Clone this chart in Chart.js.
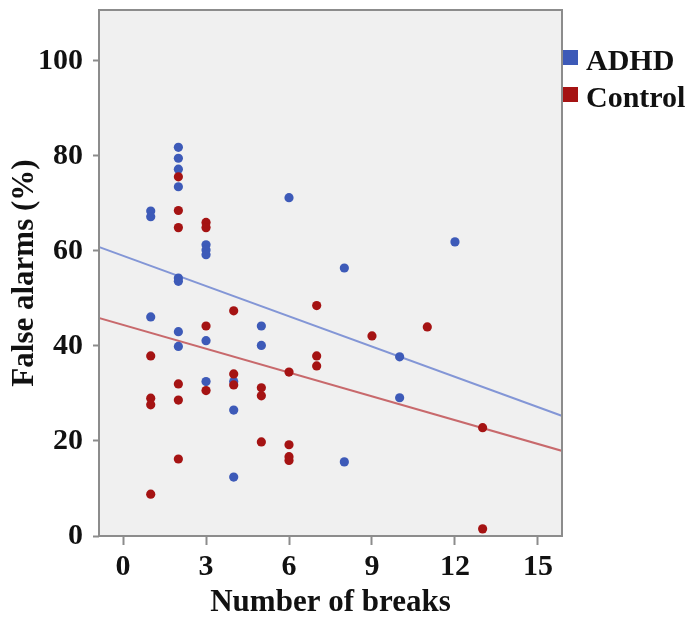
<!DOCTYPE html>
<html>
<head>
<meta charset="utf-8">
<title>False alarms by number of breaks</title>
<script src="https://cdn.jsdelivr.net/npm/chart.js@4.4.1/dist/chart.umd.min.js"></script>
<style>
  html, body { margin: 0; padding: 0; background: #fff; }
  #wrap { width: 687px; height: 622px; }
</style>
</head>
<body>
<div id="wrap"><canvas id="scatter" width="687" height="622"></canvas></div>
<script>
// Number of breaks and false alarm rate (%) per participant
const adhdBreaks = [1, 1, 1, 2, 2, 2, 2, 2, 2, 2, 2, 3, 3, 3, 3, 3, 4, 4, 4, 5, 5, 6, 8, 8, 10, 10, 12];
const adhdFalseAlarms = [68.4, 67.2, 46.1, 81.8, 79.5, 77.2, 73.5, 54.3, 53.6, 43.0, 39.9, 61.3, 60.2, 59.2, 41.1, 32.5, 32.5, 26.5, 12.4, 44.2, 40.1, 71.2, 56.4, 15.6, 37.7, 29.1, 61.9];

const controlBreaks = [1, 1, 1, 1, 2, 2, 2, 2, 2, 2, 3, 3, 3, 3, 4, 4, 4, 5, 5, 5, 6, 6, 6, 6, 7, 7, 7, 9, 11, 13, 13];
const controlFalseAlarms = [37.9, 29.0, 27.6, 8.8, 75.6, 68.5, 64.9, 32.0, 28.6, 16.2, 66.0, 64.9, 44.2, 30.6, 47.4, 34.1, 31.8, 31.2, 29.5, 19.8, 34.5, 19.2, 16.7, 15.9, 48.5, 37.9, 35.8, 42.1, 44.0, 22.8, 1.5];

// Fit line end points
const fitBreaks = [-1, 16];
const adhdFit = [61.1, 25.0];
const controlFit = [46.1, 17.7];

const groupNames = ['ADHD', 'Control'];
const xTicks = [0, 3, 6, 9, 12, 15];
const yTicks = [0, 20, 40, 60, 80, 100];

const BLUE = '#3d5ab8';
const RED = '#a51313';
const AXIS_GREY = '#8c8c8c';
const FONT = "'Liberation Serif', 'Times New Roman', serif";

function pairs(xs, ys) {
  return xs.map((x, i) => ({ x: x, y: ys[i] }));
}

// plot panel background and frame
const panelPlugin = {
  id: 'panel',
  beforeDraw(chart) {
    const { ctx, chartArea: a } = chart;
    ctx.save();
    ctx.fillStyle = '#f0f0f0';
    ctx.fillRect(a.left, a.top, a.right - a.left, a.bottom - a.top);
    ctx.restore();
  },
  afterDraw(chart) {
    const { ctx, chartArea: a } = chart;
    ctx.save();
    ctx.strokeStyle = AXIS_GREY;
    ctx.lineWidth = 2;
    ctx.strokeRect(a.left, a.top, a.right - a.left, a.bottom - a.top);
    ctx.restore();
  }
};

// group key to the right of the panel
const keyPlugin = {
  id: 'groupKey',
  afterDraw(chart) {
    const { ctx, chartArea: a } = chart;
    const colors = [BLUE, RED];
    ctx.save();
    ctx.font = 'bold 30px ' + FONT;
    ctx.textBaseline = 'alphabetic';
    groupNames.forEach((name, i) => {
      const top = 50 + i * 37;
      ctx.fillStyle = colors[i];
      ctx.fillRect(a.right + 1, top, 15, 15);
      ctx.fillStyle = '#111';
      ctx.fillText(name, a.right + 24, top + 20);
    });
    ctx.restore();
  }
};

new Chart(document.getElementById('scatter'), {
  type: 'scatter',
  data: {
    datasets: [
      {
        label: groupNames[1],
        data: pairs(controlBreaks, controlFalseAlarms),
        backgroundColor: RED,
        borderColor: RED,
        pointRadius: 4.6,
        borderWidth: 0,
        order: 1
      },
      {
        label: groupNames[0],
        data: pairs(adhdBreaks, adhdFalseAlarms),
        backgroundColor: BLUE,
        borderColor: BLUE,
        pointRadius: 4.6,
        borderWidth: 0,
        order: 2
      },
      {
        type: 'line',
        label: 'ADHD fit',
        data: pairs(fitBreaks, adhdFit),
        borderColor: '#8396d6',
        borderWidth: 2,
        pointRadius: 0,
        fill: false,
        order: 3
      },
      {
        type: 'line',
        label: 'Control fit',
        data: pairs(fitBreaks, controlFit),
        borderColor: '#c8696c',
        borderWidth: 2,
        pointRadius: 0,
        fill: false,
        order: 4
      }
    ]
  },
  options: {
    responsive: false,
    animation: false,
    layout: { padding: { top: 10, right: 125, left: 0, bottom: 0 } },
    plugins: {
      legend: { display: false },
      tooltip: { enabled: false }
    },
    scales: {
      x: {
        type: 'linear',
        min: -0.87,
        max: 15.87,
        afterFit(scale) {
          scale.height = 86;
          scale.paddingLeft = 0;
          scale.paddingRight = 0;
        },
        afterBuildTicks(scale) { scale.ticks = xTicks.map(v => ({ value: v })); },
        ticks: {
          padding: 4,
          color: '#111',
          font: { family: FONT, size: 30, weight: 'bold' }
        },
        grid: {
          drawOnChartArea: false,
          drawTicks: true,
          tickLength: 9,
          tickWidth: 2,
          tickColor: AXIS_GREY
        },
        border: { display: false },
        title: {
          display: true,
          text: 'Number of breaks',
          color: '#111',
          padding: { top: 0, bottom: 0 },
          font: { family: FONT, size: 31, weight: 'bold' }
        }
      },
      y: {
        type: 'linear',
        min: 0,
        max: 110.7,
        afterFit(scale) {
          scale.width = 99;
          scale.paddingTop = 0;
          scale.paddingBottom = 0;
        },
        afterBuildTicks(scale) { scale.ticks = yTicks.map(v => ({ value: v })); },
        ticks: {
          padding: 10,
          color: '#111',
          font: { family: FONT, size: 30, weight: 'bold' }
        },
        grid: {
          drawOnChartArea: false,
          drawTicks: true,
          tickLength: 6,
          tickWidth: 2,
          tickColor: AXIS_GREY
        },
        border: { display: false },
        title: {
          display: true,
          text: 'False alarms (%)',
          color: '#111',
          padding: { top: 6, bottom: 0 },
          font: { family: FONT, size: 31, weight: 'bold' }
        }
      }
    }
  },
  plugins: [panelPlugin, keyPlugin]
});
</script>
</body>
</html>
